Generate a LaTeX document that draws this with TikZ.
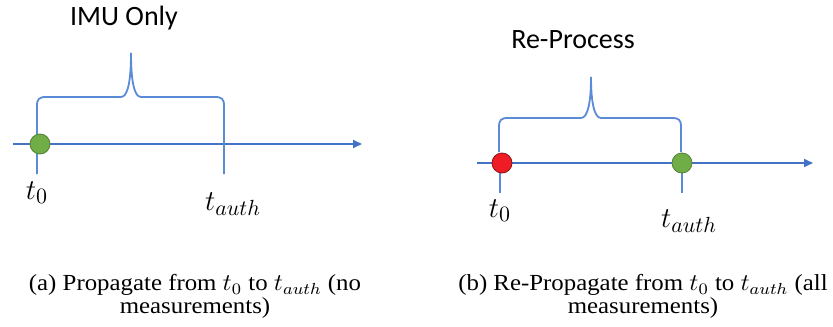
\documentclass[tikz,border=0pt]{standalone}
\usepackage{fontspec}
\setmainfont{Liberation Serif}
\newfontfamily\calibri{Carlito}
\usetikzlibrary{arrows.meta}
\definecolor{achse}{HTML}{4472C4}
\definecolor{klblau}{HTML}{5B8BD6}
\definecolor{punktgruen}{HTML}{70AD47}
\definecolor{punktrot}{HTML}{EE1C25}
\begin{document}
\begin{tikzpicture}[x=0.5pt,y=-0.5pt,>={Triangle[length=4.5pt,width=4pt]},
  achsenlinie/.style={achse,line width=0.9pt},
  klammer/.style={klblau,line width=0.9pt},
  punkt/.style={circle,inner sep=0pt,minimum size=10pt,line width=0.4pt},
  zeit/.style={anchor=base,font=\fontsize{15.5}{18}\selectfont},
  titel/.style={anchor=base,font=\calibri\fontsize{14}{17}\selectfont},
  unterschrift/.style={anchor=north,align=center,inner sep=0pt,xscale=1.08,
    font=\fontsize{11.5}{11.5}\selectfont}]
\useasboundingbox (0,0) rectangle (833,326);
%
% --- (a) nur IMU ---
%
% Achse
\coordinate (la) at (13,144);
\coordinate (le) at (362,144);
\draw[achsenlinie,->] (la) -- (le);
% Klammer mit Spitze
\draw[klammer] (37,174) -- (37,106) .. controls (37,99) and (39,97) .. (46,97)
  -- (121,97) .. controls (128,97) and (131,80) .. (131,53)
  .. controls (131,80) and (134,97) .. (141,97)
  -- (215,97) .. controls (222,97) and (224,99) .. (224,106) -- (224,174);
% Startpunkt
\node[punkt,fill=punktgruen,draw=punktgruen!75!black] (p0a) at (40,144) {};
\node[zeit] (t0a) at (37,199) {$t_0$};
\node[zeit] (ta) at (233,210) {$t_{auth}$};
\node[titel] (imu) at (124,26) {IMU Only};
\node[unterschrift] (capa) at (195,274) {(a) Propagate from $t_0$ to $t_{auth}$ (no\\measurements)};
%
% --- (b) neu verarbeiten ---
%
\coordinate (ra) at (477,163);
\coordinate (re) at (813,163);
\draw[achsenlinie,->] (ra) -- (re);
% Striche unter den Punkten
\draw[klammer] (500,163) -- (500,193);
\draw[klammer] (682,163) -- (682,193);
% Klammer
\draw[klammer] (499,152) -- (499,127) .. controls (499,120) and (501,118) .. (508,118)
  -- (581,118) .. controls (588,118) and (591,101) .. (591,77)
  .. controls (591,101) and (594,118) .. (601,118)
  -- (672,118) .. controls (679,118) and (681,120) .. (681,127) -- (681,152);
% Punkte
\node[punkt,fill=punktrot,draw=punktrot!60!black] (p0b) at (502,163) {};
\node[punkt,fill=punktgruen,draw=punktgruen!75!black] (pb) at (682,163) {};
\node[zeit] (t0b) at (500,217) {$t_0$};
\node[zeit] (tb) at (689,227) {$t_{auth}$};
\node[titel] (reproc) at (573,49) {Re-Process};
\node[unterschrift] (capb) at (643,274) {(b) Re-Propagate from $t_0$ to $t_{auth}$ (all\\measurements)};
\end{tikzpicture}
\end{document}
